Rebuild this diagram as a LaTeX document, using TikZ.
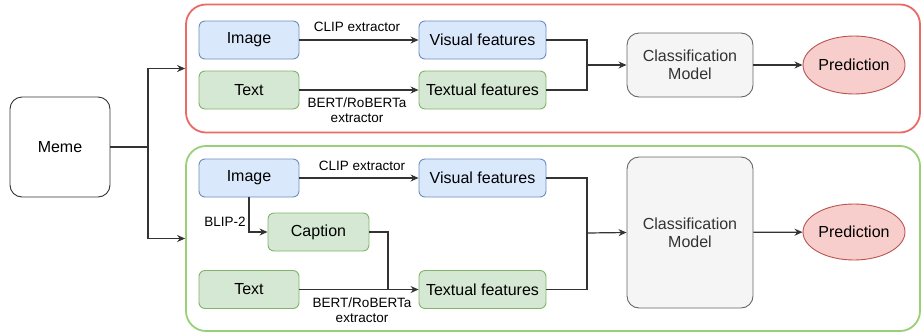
\documentclass[tikz,border=0pt]{standalone}
\usepackage{fontspec}
\setmainfont{Liberation Sans}
\usetikzlibrary{arrows.meta,shapes.geometric}
\definecolor{bluefill}{HTML}{DAE8FC}
\definecolor{bluestroke}{HTML}{6C8EBF}
\definecolor{greenfill}{HTML}{D5E8D4}
\definecolor{greenstroke}{HTML}{82B366}
\definecolor{grayfill}{HTML}{F5F5F5}
\definecolor{graystroke}{HTML}{666666}
\definecolor{graytext}{HTML}{333333}
\definecolor{redfill}{HTML}{F8CECC}
\definecolor{redstroke}{HTML}{B85450}
\definecolor{redcont}{HTML}{EA6B66}
\definecolor{greencont}{HTML}{97D077}
\begin{document}
\begin{tikzpicture}[x=1pt,y=-1pt,
  box/.style={draw, rounded corners=6pt, line width=0.9pt, inner sep=0pt,
    font=\fontsize{16}{18}\selectfont, align=center},
  bluebox/.style={box, fill=bluefill, draw=bluestroke, minimum height=38pt},
  greenbox/.style={box, fill=greenfill, draw=greenstroke, minimum height=38pt},
  graybox/.style={box, fill=grayfill, draw=graystroke, text=graytext, minimum width=126pt, rounded corners=12pt},
  predbox/.style={ellipse, draw=redstroke, fill=redfill, line width=0.9pt, inner sep=0pt,
    minimum width=102pt, font=\fontsize{16}{18}\selectfont},
  container/.style={draw, rounded corners=20pt, line width=1.8pt, minimum width=734pt, inner sep=0pt},
  lab/.style={font=\fontsize{13.5}{15.5}\selectfont, align=center, inner sep=1pt},
  line/.style={draw=black!80, line width=1.2pt},
  conn/.style={line, -{Stealth[length=8pt,width=7pt]}}
]
\useasboundingbox (0,0) rectangle (923,333);

% containers
\node[container, draw=redcont, minimum height=128pt] (c1) at (553,68.5) {};
\node[container, draw=greencont, minimum height=185pt] (c2) at (553,238.5) {};

% meme
\node[box, draw=black!80, fill=white, minimum width=100pt, minimum height=100pt, rounded corners=12pt] (meme) at (60,147) {Meme};
\coordinate (split) at (148,147);
\draw[line] (meme.east) -- (split);
\draw[conn] (split) |- (c1.west);
\draw[conn] (split) |- (c2.west);

% top pipeline
\node[bluebox, minimum width=100pt] (img1) at (249,40) {Image};
\node[greenbox, minimum width=100pt] (txt1) at (249,90) {Text};
\node[bluebox, minimum width=127pt] (vis1) at (482.5,40) {Visual features};
\node[greenbox, minimum width=127pt] (tex1) at (482.5,90) {Textual features};
\node[graybox, minimum height=64pt] (cls1) at (690,65) {Classification\\Model};
\node[predbox, minimum height=58pt] (pred1) at (854,65) {Prediction};
\node[lab] (l1) at (357,27) {CLIP extractor};
\node[lab] (l2) at (357,110) {BERT/RoBERTa\\extractor};
\coordinate (m1) at (587,65);
\draw[conn] (img1) -- (vis1);
\draw[conn] (txt1) -- (tex1);
\draw[line] (vis1.east) -| (m1);
\draw[line] (tex1.east) -| (m1);
\draw[conn] (m1) -- (cls1.west);
\draw[conn] (cls1) -- (pred1);

% bottom pipeline
\node[bluebox, minimum width=100pt] (img2) at (249,178) {Image};
\node[greenbox, minimum width=101pt] (cap2) at (318.5,232) {Caption};
\node[greenbox, minimum width=100pt] (txt2) at (249,289.5) {Text};
\node[bluebox, minimum width=127pt] (vis2) at (482.5,178) {Visual features};
\node[greenbox, minimum width=127pt] (tex2) at (482.5,289.5) {Textual features};
\node[graybox, minimum height=151pt] (cls2) at (690,232.5) {Classification\\Model};
\node[predbox, minimum height=56pt] (pred2) at (854,232) {Prediction};
\node[lab] (l3) at (362,166) {CLIP extractor};
\node[lab] (l4) at (362,310) {BERT/RoBERTa\\extractor};
\node[lab] (l5) at (225,222) {BLIP-2};
\coordinate (j2) at (388,289.5);
\coordinate (m2) at (587,233);
\draw[conn] (img2) -- (vis2);
\draw[conn] (img2.south) |- (cap2.west);
\draw[line] (cap2.east) -| (j2);
\draw[conn] (txt2) -- (tex2);
\draw[line] (vis2.east) -| (m2);
\draw[line] (tex2.east) -| (m2);
\draw[conn] (m2) -- (cls2.west);
\draw[conn] (cls2) -- (pred2);
\end{tikzpicture}
\end{document}
